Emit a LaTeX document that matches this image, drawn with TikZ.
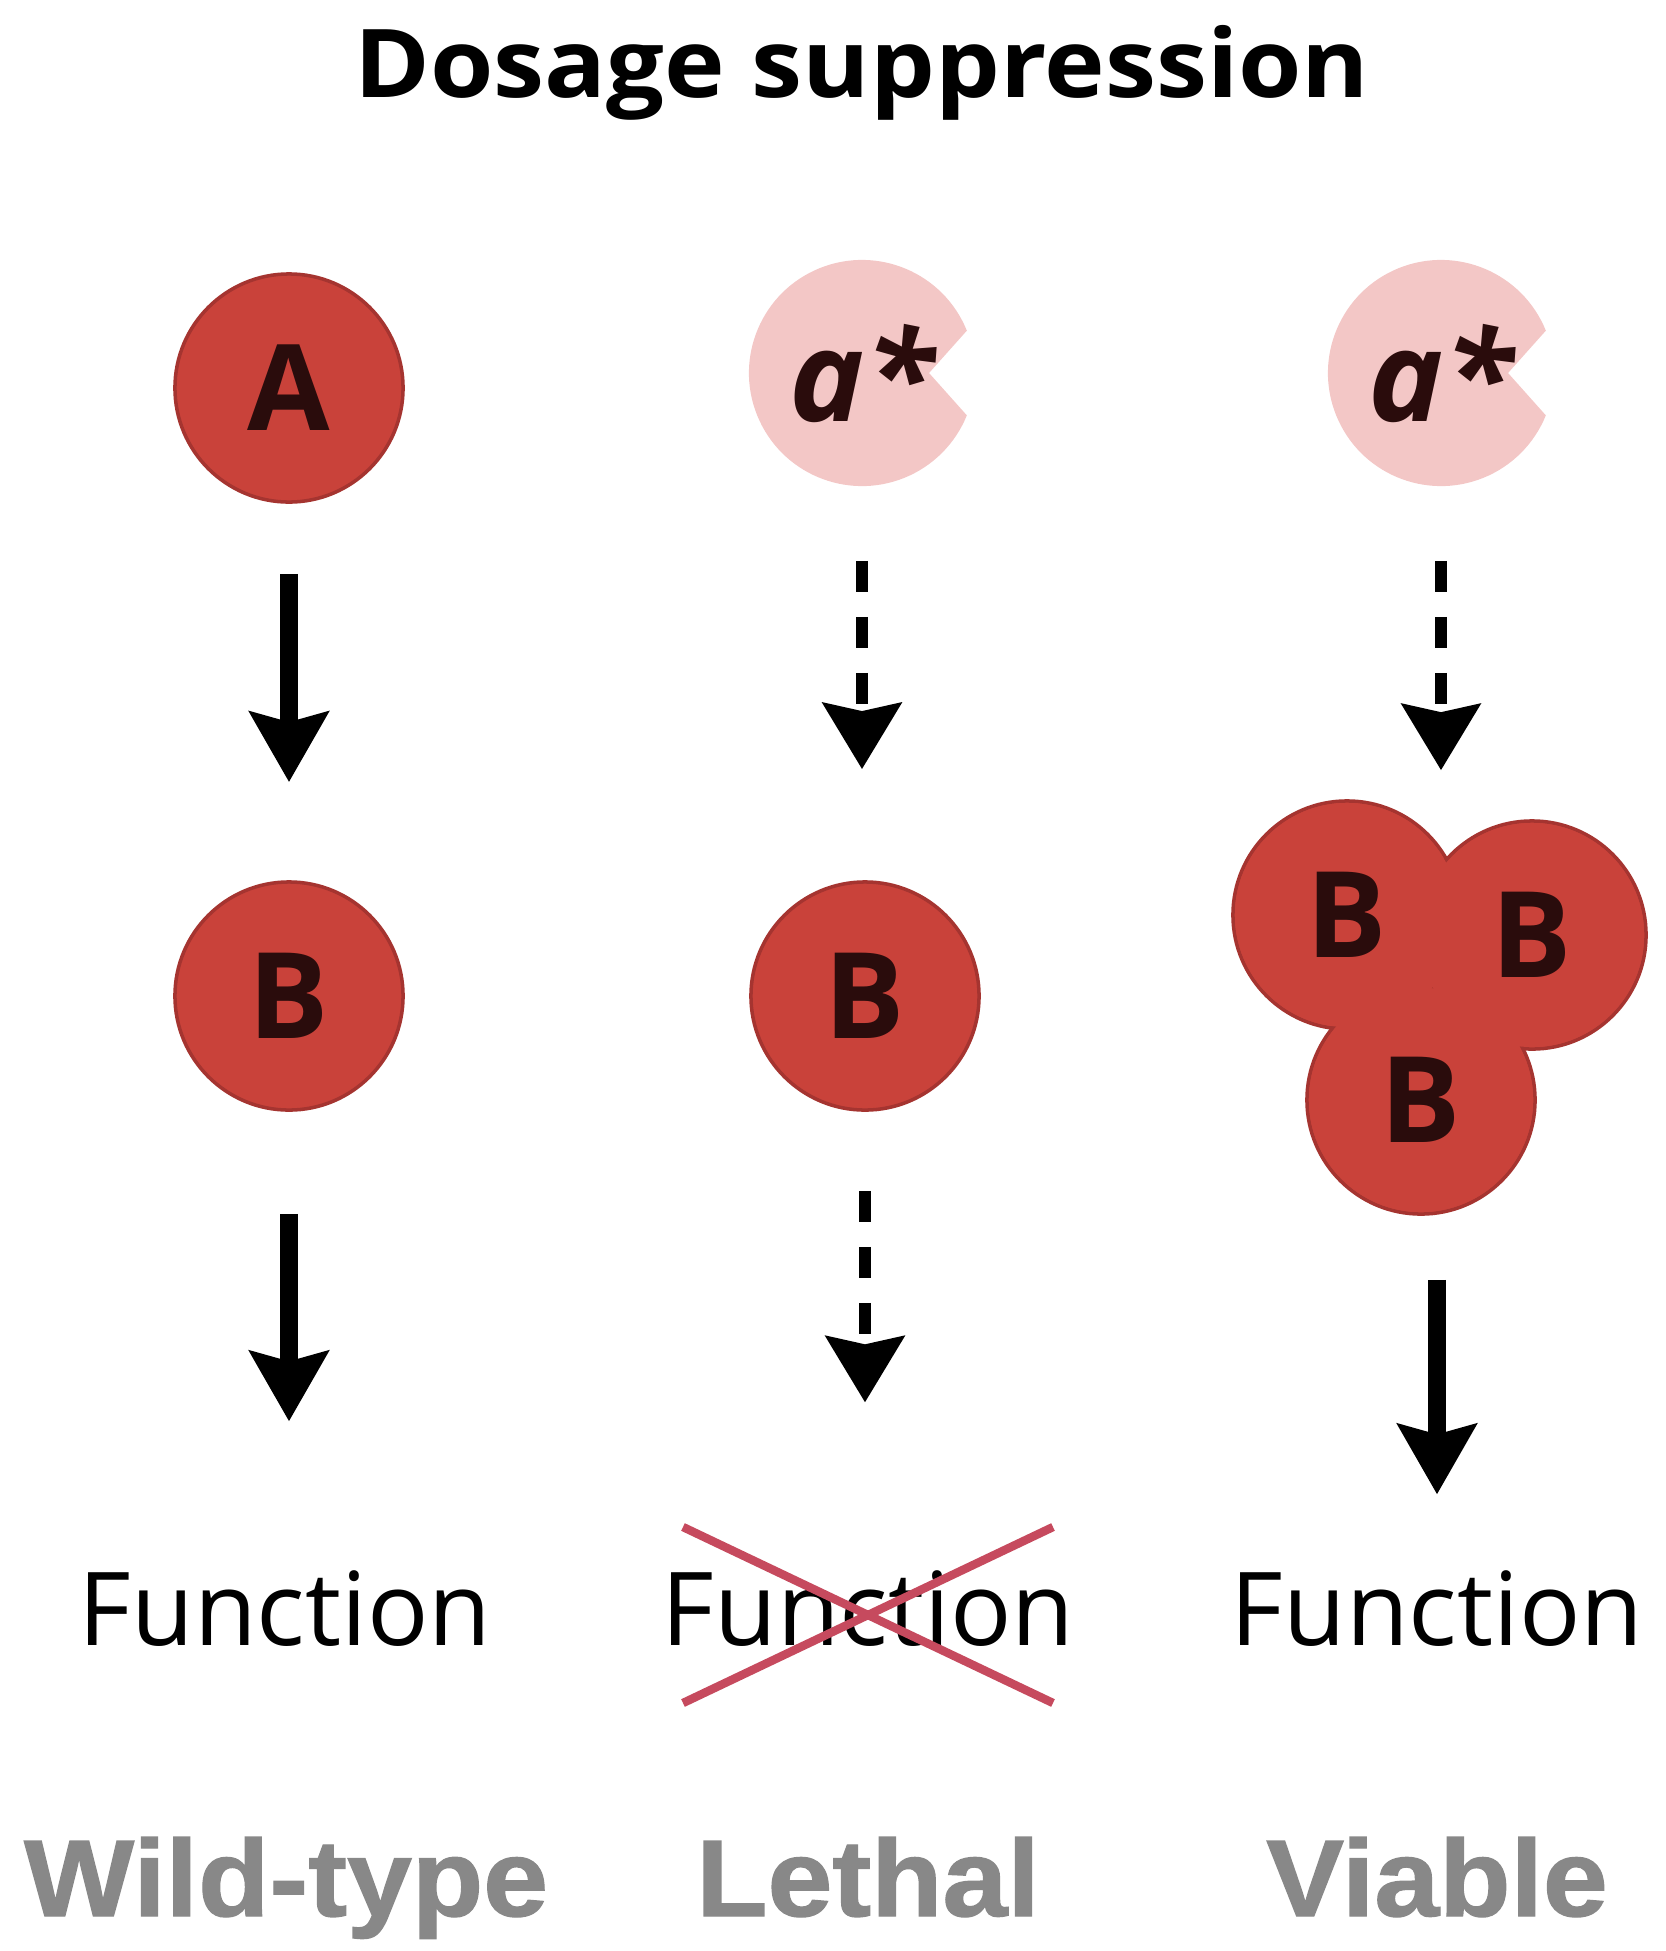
\documentclass[tikz,border=0pt]{standalone}
\usepackage{fontspec}
\setmainfont{Open Sans}
\newfontfamily\titlefont[FakeStretch=1.08]{Open Sans}
\newfontfamily\outcomefont[FakeStretch=1.07, FakeBold=1.2]{Liberation Sans}
\usepackage{tikz}
\usetikzlibrary{arrows.meta,backgrounds}

\definecolor{protred}{RGB}{201,66,58}
\definecolor{protedge}{RGB}{165,52,48}
\definecolor{mutpink}{RGB}{243,199,198}
\definecolor{letterdark}{RGB}{42,12,12}
\definecolor{crossred}{RGB}{198,74,94}
\definecolor{outcomegray}{RGB}{136,136,136}

\begin{document}
\begin{tikzpicture}[x=0.01cm, y=-0.01cm,
	protlabel/.style={circle, minimum size=2.28cm, inner sep=0pt,
		text=letterdark, font=\fontsize{34}{40}\selectfont\bfseries},
	prot/.style={protlabel, fill=protred, draw=protedge, line width=1pt},
	mutlabel/.style={protlabel, minimum size=2.26cm, font=\fontsize{36}{40}\selectfont\bfseries\itshape},
	solidarr/.style={line width=5.2pt, -{Stealth[width=0.78cm,length=0.7cm,inset=0.1cm]}},
	dasharr/.style={line width=3.4pt, dash pattern=on 0.31cm off 0.25cm,
		-{Stealth[width=0.78cm,length=0.66cm,inset=0.08cm]}},
	funclabel/.style={anchor=base, inner sep=0pt, font=\fontsize{29}{34}\selectfont},
	outcome/.style={anchor=base, inner sep=0pt, text=outcomegray, font=\outcomefont\fontsize{31}{36}\selectfont\bfseries},
	cross/.style={draw=crossred, line width=2.4pt}]
	\useasboundingbox (0,0) rectangle (1665,1951);

	\node[anchor=base, font=\titlefont\fontsize{27}{32}\selectfont\bfseries] (title) at (862,97) {Dosage suppression};

	% top row: A and the two a* mutants
	\node[prot] (A) at (289,388) {A};
	\foreach \n/\x in {a1/862, a2/1441} {
		\coordinate (c\n) at (\x,373);
		\fill[mutpink] ([shift={(22:1.13cm)}]c\n) arc[start angle=22, end angle=338, radius=1.13cm]
			-- ([shift={(0.67cm,0)}]c\n) -- cycle;
		\node[mutlabel] (\n) at (c\n) {a*};
	}

	% middle row, B overexpressed on the right
	\node[prot] (b1) at (289,996) {B};
	\node[prot] (b2) at (865,996) {B};
	\node[protlabel] (b3a) at (1347,915) {B};
	\node[protlabel] (b3b) at (1532,935) {B};
	\node[protlabel] (b3c) at (1421,1100) {B};
	\begin{scope}[on background layer]
		\foreach \n in {b3a,b3b,b3c}
			\fill[protred, draw=protedge, line width=1pt] (\n) circle (1.14cm);
		\foreach \n in {b3a,b3b,b3c}
			\fill[protred] (\n) circle (1.12cm);
	\end{scope}

	\foreach \x/\n in {285/f1, 868/f2, 1437/f3}
		\node[funclabel] (\n) at (\x,1645) {Function};

	\draw[solidarr, shorten <=0.7cm, shorten >=0.98cm] (A) -- (b1);
	\draw[dasharr, shorten <=0.74cm, shorten >=1.11cm] (a1) -- (a1 |- b2.north);
	\draw[dasharr, shorten <=0.74cm, shorten >=0.3cm] (a2) -- (a2 |- b3a.north);

	\draw[solidarr, shorten <=1.02cm, shorten >=1.48cm] (b1) -- (b1 |- f1.north);
	\draw[dasharr, shorten <=0.79cm, shorten >=1.67cm] (b2) -- (b2 |- f2.north);
	\draw[solidarr, shorten <=0.65cm, shorten >=0.75cm] (f3.north |- b3c.south) -- (f3.north);

	% lethal: function crossed out
	\draw[cross] ([shift={(-185,-118)}]f2.base) -- ([shift={(185,58)}]f2.base);
	\draw[cross] ([shift={(-185,58)}]f2.base) -- ([shift={(185,-118)}]f2.base);

	\node[outcome] (o1) at (286,1916) {Wild-type};
	\node[outcome] (o2) at (868,1916) {Lethal};
	\node[outcome] (o3) at (1437,1916) {Viable};
\end{tikzpicture}
\end{document}
